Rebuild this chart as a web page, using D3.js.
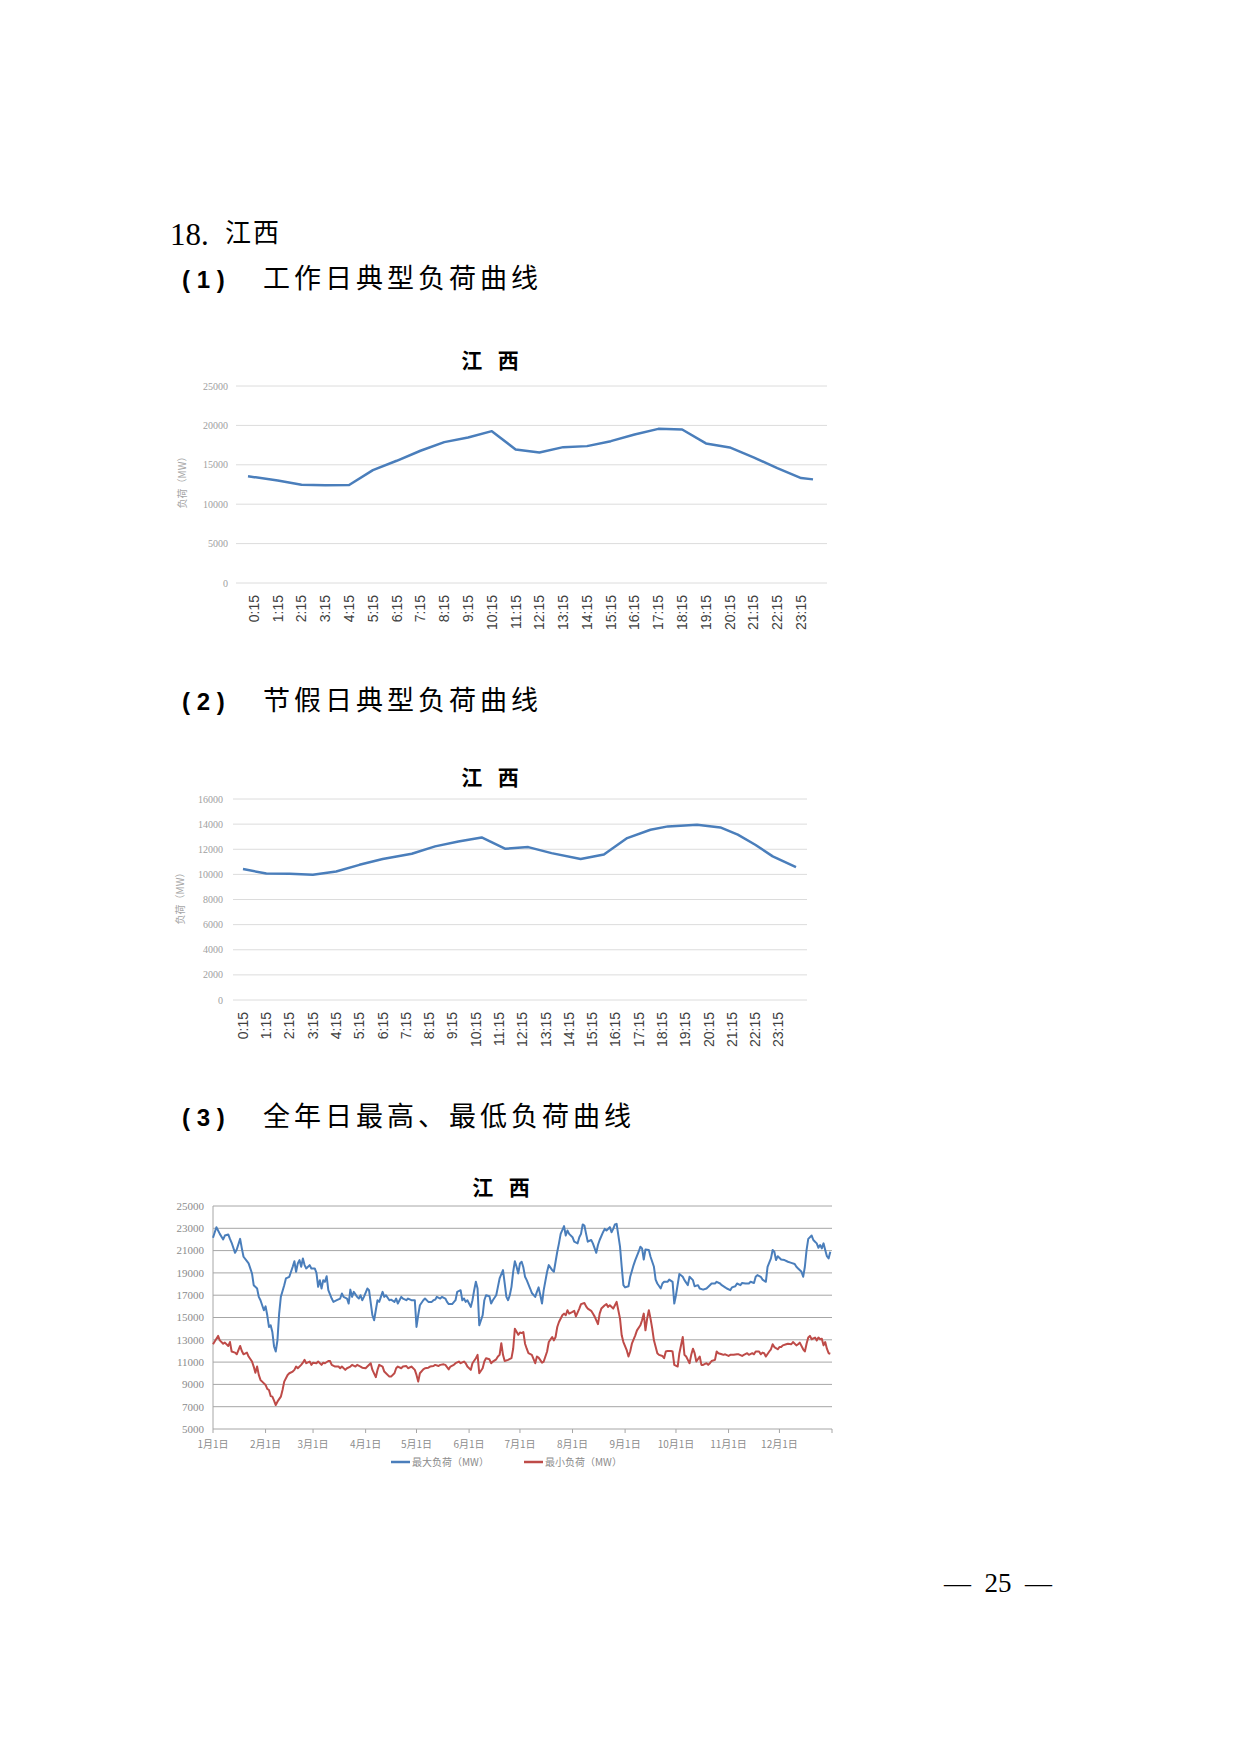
<!DOCTYPE html>
<html>
<head>
<meta charset="utf-8">
<script src="https://cdn.jsdelivr.net/npm/d3@7/dist/d3.min.js"></script>
<style>
  body { margin: 0; background: #fff; }
  svg { display: block; }
</style>
</head>
<body>
<div id="page"></div>
<script>
// ---- data ----
const hourLabels = ['0:15', '1:15', '2:15', '3:15', '4:15', '5:15', '6:15', '7:15', '8:15', '9:15', '10:15', '11:15',
    '12:15', '13:15', '14:15', '15:15', '16:15', '17:15', '18:15', '19:15', '20:15', '21:15', '22:15', '23:15']
const hourTicks = [0.25, 1.25, 2.25, 3.25, 4.25, 5.25, 6.25, 7.25, 8.25, 9.25, 10.25, 11.25,
    12.25, 13.25, 14.25, 15.25, 16.25, 17.25, 18.25, 19.25, 20.25, 21.25, 22.25, 23.25]

// 工作日 (hour, MW)
const workdayHours = [0, 1.25, 2.25, 3.25, 4.25, 5.25, 6.25, 7.25, 8.25, 9.25, 10.25, 11.25,
    12.25, 13.25, 14.25, 15.25, 16.25, 17.25, 18.25, 19.25, 20.25, 21.25, 22.25, 23.25, 23.75]
const workdayLoad = [13550, 13000, 12480, 12400, 12440, 14330, 15510, 16780, 17880, 18470, 19270, 16950,
    16570, 17240, 17370, 18000, 18850, 19560, 19480, 17710, 17200, 15940, 14590, 13320, 13150]

// 节假日 (hour, MW) read at the visible vertices
const holidayHours = [0.25, 1.25, 2.25, 3.25, 4.25, 5.25, 6.25, 7.5, 8.5, 9.5, 10.5, 11.5, 12.5,
    13.5, 14.75, 15.75, 16.75, 17.75, 18.5, 19.75, 20.75, 21.5, 22.25, 23, 24]
const holidayLoad = [10420, 10070, 10050, 9970, 10230, 10760, 11220, 11640, 12230, 12620, 12940, 12040, 12170,
    11690, 11220, 11590, 12890, 13550, 13820, 13950, 13740, 13160, 12360, 11430, 10580]

// 全年 (day of year, MW)
const maxLoad = [[0, 22150], [2, 23100], [3, 22800], [4, 22500], [6, 22000], [7, 22350], [9, 22450], [10, 22050],
    [11, 21700], [13, 20800], [14, 21100], [16, 22050], [17, 21200], [18, 20450], [20, 20050], [21, 19850],
    [23, 18950], [24, 17900], [26, 17600], [27, 16850], [28, 16550], [30, 15650], [31, 16000], [32, 15200],
    [33, 14150], [34, 14300], [35, 13700], [36, 12400], [37, 11950], [38, 12950], [39, 15350], [40, 16850],
    [42, 17900], [43, 18500], [45, 18650], [46, 19100], [47, 19550], [48, 20050], [49, 19100], [50, 19850],
    [51, 20150], [52, 19550], [53, 20300], [54, 19700], [55, 19400], [57, 19700], [58, 19400], [60, 19400],
    [61, 19000], [62, 17750], [63, 18350], [64, 17600], [65, 18350], [66, 18200], [67, 18700], [68, 17450],
    [70, 16700], [71, 16400], [73, 16550], [75, 16700], [76, 17150], [77, 16850], [79, 16700], [80, 16250],
    [81, 17500], [82, 16850], [83, 17300], [85, 16850], [86, 16700], [87, 17000], [88, 16550], [89, 16850],
    [91, 17600], [92, 17450], [94, 15200], [95, 14750], [96, 15650], [97, 16550], [98, 16400], [100, 17300],
    [101, 16850], [102, 17000], [104, 16550], [105, 16600], [107, 16400], [108, 16700], [109, 16250], [111, 16850],
    [112, 16700], [114, 16550], [115, 16700], [117, 16550], [119, 16550], [120, 14150], [121, 15200], [122, 16100],
    [124, 16550], [125, 16700], [127, 16400], [129, 16400], [130, 16550], [131, 16600], [132, 16850], [134, 16700],
    [135, 16850], [137, 16700], [138, 16400], [139, 16200], [141, 16200], [143, 16550], [144, 17300], [146, 17450],
    [147, 16550], [148, 16700], [149, 16400], [150, 16550], [152, 15950], [153, 16550], [154, 17450], [155, 18200],
    [156, 17600], [157, 14300], [159, 15200], [160, 16550], [161, 17000], [163, 16900], [164, 16250], [165, 16550],
    [167, 17000], [168, 17750], [169, 18500], [171, 19250], [172, 18050], [173, 16850], [174, 16550], [175, 17000],
    [176, 17750], [177, 19100], [178, 20050], [179, 19550], [180, 18950], [181, 19850], [182, 20000], [183, 19500],
    [184, 18650], [185, 18350], [187, 17600], [188, 17200], [190, 16850], [191, 17300], [192, 17700], [193, 17000],
    [194, 16250], [195, 17450], [197, 19100], [198, 19700], [200, 19250], [201, 19100], [202, 20000], [203, 20900],
    [204, 21650], [205, 22500], [207, 23200], [208, 22350], [209, 22800], [210, 22500], [212, 22200], [213, 21800],
    [215, 21650], [216, 22200], [217, 22500], [218, 23350], [219, 23250], [220, 22500], [221, 21800], [223, 21950],
    [224, 21650], [226, 20800], [227, 21500], [228, 21950], [230, 22650], [231, 22950], [232, 22800], [234, 23100],
    [235, 22650], [236, 22950], [237, 23350], [238, 23400], [240, 21350], [241, 19550], [242, 17900], [243, 17700],
    [245, 17800], [246, 18650], [248, 19700], [249, 20150], [251, 20900], [252, 21350], [253, 21200], [254, 20200],
    [255, 21100], [257, 21050], [258, 20450], [260, 19550], [261, 18400], [262, 18050], [264, 17600], [265, 18050],
    [266, 18200], [268, 18200], [269, 18400], [271, 18200], [272, 16250], [273, 17000], [275, 18900], [277, 18650],
    [278, 18350], [280, 17900], [281, 18650], [283, 18350], [284, 17800], [286, 17900], [287, 17600], [289, 17500],
    [291, 17600], [293, 17900], [294, 18050], [296, 18050], [297, 18200], [299, 18050], [300, 17900], [302, 17700],
    [303, 17600], [305, 17450], [306, 17700], [308, 17800], [309, 18050], [311, 17900], [312, 18100], [314, 18050],
    [316, 18050], [317, 18200], [319, 18100], [320, 18650], [321, 18800], [323, 18650], [324, 18400], [326, 18200],
    [327, 19550], [329, 20300], [330, 21050], [331, 20900], [332, 20150], [333, 20500], [335, 20200], [337, 20150],
    [339, 20000], [341, 19900], [343, 19800], [344, 19550], [345, 19400], [347, 19100], [348, 18650], [349, 19550],
    [350, 21050], [351, 22050], [353, 22350], [354, 21950], [355, 21800], [356, 21650], [357, 21250], [358, 21500],
    [359, 21200], [360, 21650], [361, 21050], [362, 20500], [363, 20300], [364, 20900]]

const minLoad = [[0, 12600], [3, 13350], [4, 12950], [6, 12650], [7, 12750], [9, 12450], [10, 12800], [11, 11950],
    [13, 11850], [14, 11700], [16, 12450], [17, 12000], [18, 11700], [20, 11850], [21, 11500], [23, 11050],
    [24, 10600], [25, 10050], [26, 10600], [27, 9850], [28, 9400], [29, 9250], [31, 8950], [32, 8600],
    [33, 8500], [34, 7950], [35, 7900], [36, 7550], [37, 7150], [38, 7450], [40, 7900], [41, 8500],
    [42, 9250], [44, 9850], [45, 10000], [47, 10150], [48, 10300], [49, 10600], [50, 10450], [52, 10750],
    [53, 10950], [54, 11200], [55, 10900], [57, 11050], [58, 10750], [59, 10950], [61, 10900], [62, 11050],
    [64, 10750], [65, 10950], [66, 10900], [68, 11100], [69, 11100], [70, 10750], [72, 10600], [74, 10600],
    [75, 10450], [76, 10600], [78, 10300], [79, 10450], [81, 10600], [82, 10750], [84, 10600], [85, 10750],
    [87, 10600], [88, 10500], [90, 10450], [91, 10600], [93, 10900], [94, 10300], [96, 9650], [97, 10300],
    [98, 10750], [100, 10600], [101, 10150], [102, 10000], [104, 9700], [105, 9700], [107, 10000], [108, 10450],
    [109, 10600], [111, 10450], [112, 10600], [114, 10650], [115, 10450], [117, 10600], [119, 10300], [120, 9850],
    [121, 9250], [122, 10000], [124, 10350], [125, 10450], [127, 10500], [128, 10600], [130, 10650], [131, 10750],
    [133, 10650], [134, 10750], [136, 10800], [137, 10750], [139, 10350], [140, 10600], [142, 10750], [143, 10900],
    [145, 11050], [146, 10900], [148, 11050], [149, 10900], [150, 10600], [152, 10300], [153, 10900], [155, 11350],
    [156, 11650], [157, 10000], [159, 10450], [160, 11050], [161, 11350], [163, 11250], [164, 10900], [165, 11050],
    [167, 11250], [168, 11500], [169, 11650], [170, 12700], [171, 11650], [172, 11100], [174, 11200], [176, 11350],
    [177, 12200], [178, 14000], [180, 13450], [181, 13650], [182, 13600], [183, 13700], [184, 12650], [185, 12200],
    [186, 11800], [188, 11650], [190, 10900], [191, 11500], [192, 11400], [194, 10950], [195, 11050], [197, 11950],
    [198, 12800], [200, 13250], [201, 12950], [202, 13250], [203, 14150], [204, 14600], [206, 15200], [207, 15350],
    [208, 15200], [209, 15650], [210, 15350], [212, 15500], [213, 15600], [214, 15100], [216, 15800], [217, 16200],
    [219, 16300], [220, 16000], [221, 15800], [223, 15600], [224, 15350], [225, 15100], [227, 14400], [228, 15350],
    [229, 15800], [231, 16100], [232, 16200], [233, 15950], [234, 16100], [236, 15800], [237, 16100], [238, 16400],
    [240, 14900], [241, 13400], [242, 12800], [244, 12050], [245, 11500], [246, 11950], [247, 12650], [249, 13400],
    [250, 13850], [252, 14300], [253, 14750], [254, 15350], [255, 13850], [256, 14900], [257, 15650], [258, 14900],
    [259, 14000], [260, 12950], [262, 11800], [263, 11650], [265, 11550], [266, 11350], [267, 11950], [268, 12000],
    [270, 12000], [271, 11950], [272, 10750], [274, 10600], [275, 11800], [277, 13250], [278, 11650], [279, 11500],
    [280, 11200], [281, 10900], [282, 11650], [283, 12200], [284, 11800], [285, 11050], [287, 11500], [288, 10750],
    [289, 10750], [291, 10900], [292, 10750], [293, 10900], [294, 11100], [296, 11200], [297, 11950], [298, 11800],
    [300, 11700], [301, 11650], [302, 11700], [304, 11550], [305, 11650], [307, 11650], [309, 11700], [310, 11700],
    [312, 11550], [313, 11650], [315, 11800], [316, 11650], [318, 11800], [319, 11700], [320, 11950], [322, 11950],
    [323, 11700], [324, 11850], [325, 11800], [326, 11500], [328, 11950], [329, 12150], [330, 12600], [331, 12350],
    [333, 12150], [334, 12350], [335, 12350], [336, 12500], [338, 12600], [339, 12650], [341, 12600], [342, 12800],
    [344, 12500], [345, 12600], [346, 12750], [348, 12150], [349, 11950], [350, 12650], [351, 13200], [352, 13350],
    [353, 13050], [355, 13200], [356, 12950], [357, 13200], [358, 13050], [359, 13100], [360, 12500], [361, 12800],
    [362, 12200], [363, 11800], [364, 11750]]

const monthStarts = [0, 31, 59, 90, 120, 151, 181, 212, 243, 273, 304, 334]
const monthLabels = ['1月1日', '2月1日', '3月1日', '4月1日', '5月1日', '6月1日', '7月1日', '8月1日',
    '9月1日', '10月1日', '11月1日', '12月1日']
const seriesNames = ['最大负荷（MW）', '最小负荷（MW）']

// ---- page ----
const cjk = '"Noto Sans CJK SC", sans-serif'
const serif = '"Liberation Serif", "DejaVu Serif", serif'
const sans = '"Liberation Sans", Arial, sans-serif'
const blue = '#4a7ebb'
const red = '#be4b48'

const svg = d3.select('#page').append('svg').attr('width', 1240).attr('height', 1754)
svg.append('rect').attr('width', 1240).attr('height', 1754).attr('fill', '#fff')

svg.append('text').attr('x', 170).attr('y', 245).attr('font-family', serif).attr('font-size', 31).text('18.')
svg.append('text').attr('x', 225).attr('y', 242).attr('font-family', cjk).attr('font-size', 26)
    .attr('letter-spacing', 2).text('江西')

function heading(y, num, label) {
    svg.append('text').attr('x', 182).attr('y', y).attr('font-family', sans).attr('font-weight', 'bold')
        .attr('font-size', 24).attr('xml:space', 'preserve').text(`( ${num} )`)
    svg.append('text').attr('x', 263).attr('y', y).attr('font-family', cjk).attr('font-size', 27)
        .attr('letter-spacing', 4).text(label)
}
heading(288, 1, '工作日典型负荷曲线')
heading(710, 2, '节假日典型负荷曲线')
heading(1126, 3, '全年日最高、最低负荷曲线')

svg.append('text').attr('x', 998).attr('y', 1592).attr('text-anchor', 'middle').attr('font-family', serif)
    .attr('font-size', 27).attr('xml:space', 'preserve').text('—  25  —')

function chartTitle(x, y) {
    svg.append('text').attr('x', x).attr('y', y).attr('text-anchor', 'middle').attr('font-family', cjk)
        .attr('font-weight', 'bold').attr('font-size', 21).attr('letter-spacing', 2)
        .attr('xml:space', 'preserve').text('江  西')
}

function yAxisTitle(x, y) {
    svg.append('text').attr('transform', `translate(${x},${y}) rotate(-90)`).attr('text-anchor', 'middle')
        .attr('dy', '0.35em').attr('font-family', cjk).attr('font-size', 10).attr('fill', '#a6a6a6')
        .text('负荷（MW）')
}

function gridAndLabels(g, y, ticks, x0, x1, labelX, color, fontSize, labelColor) {
    g.selectAll('line.grid').data(ticks).join('line').attr('class', 'grid')
        .attr('x1', x0).attr('x2', x1).attr('y1', d => y(d)).attr('y2', d => y(d))
        .attr('stroke', color).attr('stroke-width', 1)
    g.selectAll('text.ytick').data(ticks).join('text').attr('class', 'ytick')
        .attr('x', labelX).attr('y', d => y(d)).attr('dy', '0.35em').attr('text-anchor', 'end')
        .attr('font-family', serif).attr('font-size', fontSize).attr('fill', labelColor).text(d => d)
}

function hourLabelsAt(g, xs, top) {
    g.selectAll('text.xtick').data(hourLabels).join('text').attr('class', 'xtick')
        .attr('transform', (d, i) => `translate(${xs[i]},${top}) rotate(-90)`)
        .attr('text-anchor', 'end').attr('dy', '0.35em')
        .attr('font-family', sans).attr('font-size', 14).attr('fill', '#404040').text(d => d)
}

// ---- chart 1: 工作日 ----
function drawWorkday() {
    const g = svg.append('g')
    const x = d3.scaleLinear().domain([0, 23.75]).range([248, 813])
    const y = d3.scaleLinear().domain([0, 25000]).range([583, 386])
    chartTitle(491, 368)
    yAxisTitle(182, 480)
    gridAndLabels(g, y, y.ticks(5), 236, 827, 228, '#dcdcdc', 10, '#a0a0a0')
    hourLabelsAt(g, hourTicks.map(x), 595)
    const line = d3.line().x((d, i) => x(workdayHours[i])).y(d => y(d))
    g.append('path').datum(workdayLoad).attr('d', line).attr('fill', 'none')
        .attr('stroke', blue).attr('stroke-width', 2.5).attr('stroke-linejoin', 'round')
}

// ---- chart 2: 节假日 ----
function drawHoliday() {
    const g = svg.append('g')
    const x = d3.scaleLinear().domain([0.25, 24]).range([243, 796])
    const y = d3.scaleLinear().domain([0, 16000]).range([1000, 799])
    chartTitle(491, 785)
    yAxisTitle(180, 896)
    gridAndLabels(g, y, d3.range(0, 16001, 2000), 233, 807, 223, '#dcdcdc', 10, '#a0a0a0')
    hourLabelsAt(g, hourTicks.map(x), 1012)
    const line = d3.line().x((d, i) => x(holidayHours[i])).y(d => y(d))
    g.append('path').datum(holidayLoad).attr('d', line).attr('fill', 'none')
        .attr('stroke', blue).attr('stroke-width', 2.5).attr('stroke-linejoin', 'round')
}

// ---- chart 3: 全年 ----
function drawYear() {
    const g = svg.append('g')
    const x = d3.scaleLinear().domain([0, 365]).range([213, 832])
    const y = d3.scaleLinear().domain([5000, 25000]).range([1429, 1206])
    chartTitle(502, 1195)
    gridAndLabels(g, y, d3.range(5000, 25001, 2000), 213, 832, 204, '#a6a6a6', 11, '#8c8c8c')

    g.append('line').attr('x1', x(0)).attr('x2', x(0)).attr('y1', y(25000)).attr('y2', y(5000))
        .attr('stroke', '#a6a6a6')
    const ticks = monthStarts.concat([365])
    g.selectAll('line.xt').data(ticks).join('line').attr('class', 'xt')
        .attr('x1', d => x(d)).attr('x2', d => x(d)).attr('y1', y(5000)).attr('y2', y(5000) + 4)
        .attr('stroke', '#a6a6a6')
    g.selectAll('text.xl').data(monthStarts).join('text').attr('class', 'xl')
        .attr('x', d => x(d)).attr('y', 1444).attr('dy', '0.35em').attr('text-anchor', 'middle')
        .attr('font-family', cjk).attr('font-size', 10).attr('fill', '#8c8c8c')
        .text((d, i) => monthLabels[i])

    const line = d3.line().x(d => x(d[0])).y(d => y(d[1]))
    g.append('path').datum(maxLoad).attr('d', line).attr('fill', 'none')
        .attr('stroke', blue).attr('stroke-width', 2).attr('stroke-linejoin', 'round')
    g.append('path').datum(minLoad).attr('d', line).attr('fill', 'none')
        .attr('stroke', red).attr('stroke-width', 2).attr('stroke-linejoin', 'round')

    // legend
    const legend = [[391, blue], [524, red]]
    legend.forEach(([lx, c], i) => {
        g.append('line').attr('x1', lx).attr('x2', lx + 19).attr('y1', 1462).attr('y2', 1462)
            .attr('stroke', c).attr('stroke-width', 2.5)
        g.append('text').attr('x', lx + 21).attr('y', 1462).attr('dy', '0.35em')
            .attr('font-family', cjk).attr('font-size', 10).attr('fill', '#8c8c8c').text(seriesNames[i])
    })
}

drawWorkday()
drawHoliday()
drawYear()
</script>
</body>
</html>
